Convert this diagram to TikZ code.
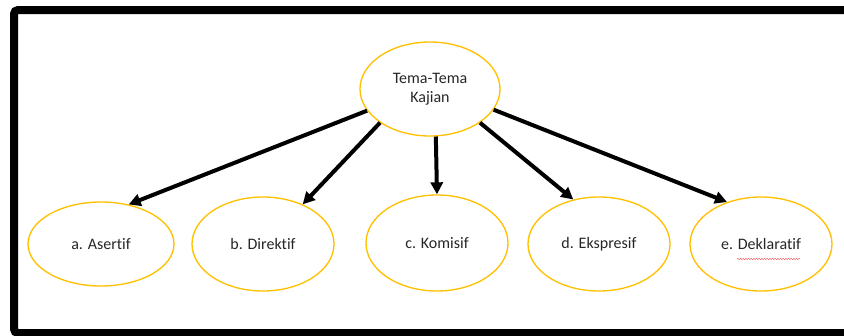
\documentclass[tikz,border=0pt]{standalone}
\usepackage{fontspec}
\setmainfont{Carlito}[Ligatures={NoCommon,NoContextual}]
\usepackage{tikz}
\usetikzlibrary{shapes.geometric}
\usetikzlibrary{arrows.meta}
\usetikzlibrary{calc}
\usetikzlibrary{decorations.pathmorphing}
\definecolor{emas}{RGB}{255,192,0}
\definecolor{teks}{RGB}{38,38,38}
\tikzset{
  frame/.style={black, line width=6pt, rounded corners=3pt},
  topic/.style={ellipse, draw=emas, line width=1pt, text=teks, inner sep=0pt,
    align=center, font={\fontsize{12}{14.5}\selectfont}},
  sub topic/.style={topic, minimum width=106.5pt, minimum height=70.5pt},
  link/.style={black, line width=3pt, -{Triangle[length=9pt,width=9pt]}},
  spell mark/.style={red!75, line width=0.3pt, decorate,
    decoration={snake, amplitude=0.4pt, segment length=2pt}}
}

\begin{document}
\begin{tikzpicture}[x=0.75pt,y=-0.75pt]
    \useasboundingbox (0,0) rectangle (844,336);
    \draw[frame] (14,10) rectangle (858,333);

    \node[topic, minimum width=105pt, minimum height=70.5pt] (tema) at (430,89) {Tema-Tema\\Kajian};

    \node[sub topic, minimum width=109.5pt, minimum height=63pt] (asertif) at (101,244) {a. Asertif};
    \node[sub topic] (direktif) at (263,244) {b. Direktif};
    \node[sub topic, minimum height=72pt] (komisif) at (437,243) {c. Komisif};
    \node[sub topic] (ekspresif) at (599,244) {d. Ekspresif};
    \node[sub topic] (deklaratif) at (761,244) {e. Deklaratif};

    \draw[link] (tema.199) -- (asertif.55);
    \draw[link] (tema.214) -- (direktif.45);
    \draw[link] (tema.277) -- (komisif.90);
    \draw[link] (tema.326) -- (ekspresif.120);
    \draw[link] (tema.342) -- (deklaratif.129);

    \draw[spell mark] ($(deklaratif.center)+(-24,15)$) -- ($(deklaratif.center)+(39,15)$);
\end{tikzpicture}
\end{document}
